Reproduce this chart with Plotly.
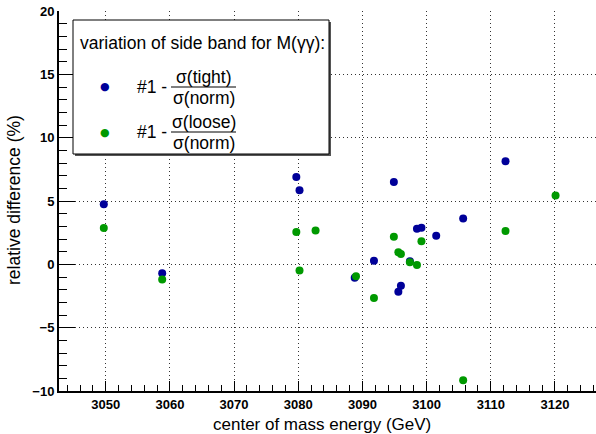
import plotly.graph_objects as go

# ---- data ----
tight_energy = [3049.7, 3058.8, 3079.7, 3080.2, 3088.8, 3091.8, 3094.9, 3095.6,
                3096.0, 3097.4, 3098.5, 3099.2, 3101.5, 3105.7, 3112.3]
tight_diff = [4.75, -0.71, 6.9, 5.84, -1.05, 0.29, 6.5, -2.17,
              -1.7, 0.24, 2.8, 2.88, 2.25, 3.62, 8.14]

loose_energy = [3049.7, 3058.8, 3079.7, 3080.2, 3082.7, 3089.0, 3091.8, 3094.9,
                3095.6, 3096.0, 3097.4, 3098.5, 3099.2, 3105.7, 3112.3, 3120.1]
loose_diff = [2.86, -1.19, 2.56, -0.48, 2.67, -0.95, -2.65, 2.17,
              0.95, 0.82, 0.16, -0.06, 1.83, -9.16, 2.64, 5.44]

legend_title = "variation of side band for M(γγ):"
series_labels = [("σ(tight)", "σ(norm)"), ("σ(loose)", "σ(norm)")]
x_title = "center of mass energy (GeV)"
y_title = "relative difference (%)"
colors = ["#000099", "#009900"]

W, H = 596, 434
L, R, T, B = 59, 0, 11, 43
PW, PH = W - L - R, H - T - B
FONT = "Liberation Sans, Arial, Helvetica, sans-serif"


def px(x):
    return (x - L) / PW


def py(y):
    return (H - B - y) / PH


fig = go.Figure()
fig.add_trace(go.Scatter(x=tight_energy, y=tight_diff, mode="markers",
                         marker=dict(color=colors[0], size=8), showlegend=False))
fig.add_trace(go.Scatter(x=loose_energy, y=loose_diff, mode="markers",
                         marker=dict(color=colors[1], size=8), showlegend=False))

shapes = []
annotations = []
# legend box with shadow
shapes.append(dict(type="rect", xref="paper", yref="paper",
                   x0=px(75), x1=px(331), y0=py(156), y1=py(22),
                   line=dict(width=0), fillcolor="#555555", layer="above"))
shapes.append(dict(type="rect", xref="paper", yref="paper",
                   x0=px(73), x1=px(329), y0=py(154), y1=py(20),
                   line=dict(color="black", width=1), fillcolor="white", layer="above"))
annotations.append(dict(xref="paper", yref="paper", x=px(78), y=py(43),
                        text=legend_title, showarrow=False, xanchor="left",
                        yanchor="middle", font=dict(size=17.5, family=FONT, color="black")))
rows = [87, 132]
for i, (num, den) in enumerate(series_labels):
    yc = rows[i]
    annotations.append(dict(xref="paper", yref="paper", x=px(104.5), y=py(yc),
                            text="●", showarrow=False, xanchor="center", yanchor="middle",
                            font=dict(size=11, color=colors[i], family="DejaVu Sans")))
    annotations.append(dict(xref="paper", yref="paper", x=px(135), y=py(yc),
                            text="#1 -", showarrow=False, xanchor="left", yanchor="middle",
                            font=dict(size=17.5, family=FONT, color="black")))
    annotations.append(dict(xref="paper", yref="paper", x=px(203.5), y=py(yc - 10),
                            text=num, showarrow=False, xanchor="center", yanchor="middle",
                            font=dict(size=17.5, family=FONT, color="black")))
    annotations.append(dict(xref="paper", yref="paper", x=px(203.5), y=py(yc + 11),
                            text=den, showarrow=False, xanchor="center", yanchor="middle",
                            font=dict(size=17.5, family=FONT, color="black")))
    shapes.append(dict(type="line", xref="paper", yref="paper",
                       x0=px(171), x1=px(236), y0=py(yc), y1=py(yc),
                       line=dict(color="black", width=1), layer="above"))

# axis titles
annotations.append(dict(xref="paper", yref="paper", x=px(322), y=py(424),
                        text=x_title, showarrow=False, xanchor="center", yanchor="middle",
                        font=dict(size=17, family=FONT, color="black")))
annotations.append(dict(xref="paper", yref="paper", x=px(14), y=py(200),
                        text=y_title, showarrow=False, xanchor="center", yanchor="middle",
                        textangle=-90,
                        font=dict(size=17.5, family=FONT, color="black")))

axis_common = dict(showline=True, linecolor="black", linewidth=2, mirror=False,
                   ticks="inside", tickcolor="black", tickwidth=1,
                   showgrid=True, gridcolor="#333333", griddash="1px,3px", gridwidth=1,
                   zeroline=False, automargin=False,
                   tickfont=dict(size=13, family=FONT, color="black", weight="bold"))

fig.update_layout(
    width=W, height=H,
    margin=dict(l=L, r=R, t=T, b=B),
    paper_bgcolor="white", plot_bgcolor="white",
    shapes=shapes, annotations=annotations,
    xaxis=dict(range=[3042.72, 3126.4], dtick=10, tick0=3050, ticklen=10,
               minor=dict(dtick=2, ticks="inside", ticklen=6, tickcolor="black",
                          showgrid=False),
               **axis_common),
    yaxis=dict(range=[-10, 20], dtick=5, ticklen=16,
               minor=dict(dtick=1, ticks="inside", ticklen=8, tickcolor="black",
                          showgrid=False),
               **axis_common),
)

fig.write_html("out.html", config={"displayModeBar": False},
               post_script="document.body.style.margin='0';document.body.style.overflow='hidden';")
